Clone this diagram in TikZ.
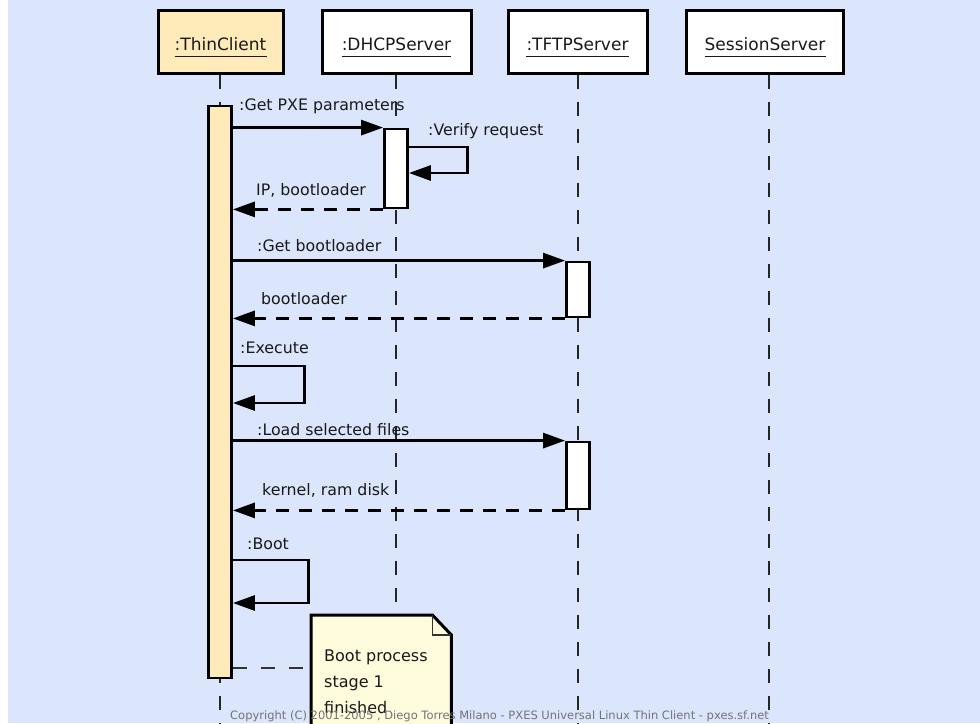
\documentclass[tikz,border=0pt]{standalone}
\usepackage{fontspec}
\setmainfont{DejaVu Sans}
\usetikzlibrary{arrows.meta,calc}
\definecolor{bg}{RGB}{219,230,252}
\definecolor{tcfill}{RGB}{255,234,185}
\definecolor{notefill}{RGB}{255,252,222}
\definecolor{txt}{RGB}{25,25,25}
\definecolor{copyc}{RGB}{115,115,115}
\begin{document}
\begin{tikzpicture}[x=1pt,y=-1pt,
  head/.style={draw=black, line width=3pt, fill=white, minimum height=63pt, inner sep=0pt},
  headtext/.style={text=txt, inner sep=0pt, anchor=base, font=\fontsize{17}{20}\selectfont},
  act/.style={draw=black, line width=2.8pt, fill=white, inner sep=0pt, minimum width=23pt},
  lifeline/.style={draw=black!85, line width=1.7pt, dash pattern=on 14pt off 13pt},
  msg/.style={draw=black, line width=2.9pt, line join=miter, -{Triangle[length=22pt,width=15pt]}},
  ret/.style={msg, dash pattern=on 13pt off 10pt},
  lbl/.style={text=txt, inner sep=0pt, anchor=base west, font=\fontsize{15.8}{18}\selectfont},
  notetext/.style={text=txt, inner sep=0pt, anchor=base west, font=\fontsize{16}{18}\selectfont},
]
\useasboundingbox (0,0) rectangle (980,723);
\clip (0,0) rectangle (980,723);
\fill[white] (0,0) rectangle (980,723);
\fill[bg] (8,0) rectangle (980,723);

% heads
\node[head, fill=tcfill, minimum width=125pt] (tc) at (220.5,41.5) {};
\node[head, minimum width=149pt] (dh) at (396.5,41.5) {};
\node[head, minimum width=139pt] (tf) at (577.5,41.5) {};
\node[head, minimum width=157pt] (ss) at (764.5,41.5) {};
\node[headtext] (tct) at (220.5,50) {:ThinClient};
\node[headtext] (dht) at (396.5,50) {:DHCPServer};
\node[headtext] (tft) at (577.5,50) {:TFTPServer};
\node[headtext] (sst) at (765,50) {SessionServer};
\foreach \t in {tct,dht,tft,sst}{
  \draw[txt, line width=1.3pt] ([yshift=-6.5pt]\t.base west) -- ([yshift=-6.5pt]\t.base east);
}

% lifelines
\coordinate (tcB) at (220,730);
\coordinate (dhB) at (396,730);
\coordinate (tfB) at (578,730);
\coordinate (ssB) at (769,730);
\draw[lifeline] ([xshift=-0.5pt]tc.south) -- (tcB);
\draw[lifeline] ([xshift=-0.5pt]dh.south) -- (dhB);
\draw[lifeline] ([xshift=0.5pt]tf.south) -- (tfB);
\draw[lifeline] ([xshift=4.5pt]ss.south) -- (ssB);

% activations
\node[act, fill=tcfill, minimum width=23pt, minimum height=572pt] (tcA) at (220,392) {};
\node[act, minimum height=79pt] (dhA) at (396,168.5) {};
\node[act, minimum height=55pt] (tfA1) at (578,289.5) {};
\node[act, minimum height=67pt] (tfA2) at (578,475.5) {};

% messages
\draw[msg] (tcA.east |- dhA.north) -- (dhA.north west);
\node[lbl] (l1) at (239,110) {:Get PXE parameters};

\draw[msg] (dhA.east |- 0,147) -| ++(59,26) -- (dhA.east |- 0,173);
\node[lbl] (l2) at (428,135) {:Verify request};

\draw[ret] (dhA.south west) -- (tcA.east |- dhA.south);
\node[lbl] (l3) at (256,195) {IP, bootloader};

\draw[msg] (tcA.east |- tfA1.north) -- (tfA1.north west);
\node[lbl] (l4) at (257,251) {:Get bootloader};

\draw[ret] (tfA1.south west) -- (tcA.east |- tfA1.south);
\node[lbl] (l5) at (261,304) {bootloader};

\draw[msg] (tcA.east |- 0,366) -| ++(71.5,37) -- (tcA.east |- 0,403);
\node[lbl] (l6) at (240,353) {:Execute};

\draw[msg] (tcA.east |- tfA2.north) -- (tfA2.north west);
\node[lbl] (l7) at (257,435) {:Load selected files};

\draw[ret] (tfA2.south west) -- (tcA.east |- tfA2.south);
\node[lbl] (l8) at (262,495) {kernel, ram disk};

\draw[msg] (tcA.east |- 0,560) -| ++(75.5,43) -- (tcA.east |- 0,603);
\node[lbl] (l9) at (247,549) {:Boot};

% note
\node[draw=none, inner sep=0pt, minimum width=140pt, minimum height=150pt, anchor=north west] (note) at (311,615) {};
\draw[line width=3pt, fill=notefill, line join=miter]
  (note.north west) -- ([xshift=-19pt]note.north east) -- ([yshift=-20pt]note.north east)
  -- (note.south east) -- (note.south west) -- cycle;
\draw[line width=1.5pt, draw=black!80]
  ([xshift=-19pt]note.north east) -- ([xshift=-19pt,yshift=-20pt]note.north east) -- ([yshift=-20pt]note.north east);
\coordinate (cy) at (0,668);
\draw[line width=2pt, draw=black!80, dash pattern=on 14pt off 14pt] (tcA.east |- cy) -- (note.west |- cy);
\node[notetext] (n1) at (324,661) {Boot process};
\node[notetext] (n2) at (324,687) {stage 1};
\node[notetext] (n3) at (324,713) {finished};

% copyright
\node[text=copyc, inner sep=0pt, anchor=base west, font=\fontsize{11.5}{13}\selectfont] (cr) at (230,719.5)
  {Copyright (C) 2001-2005 , Diego Torres Milano - PXES Universal Linux Thin Client - pxes.sf.net};
\end{tikzpicture}
\end{document}
